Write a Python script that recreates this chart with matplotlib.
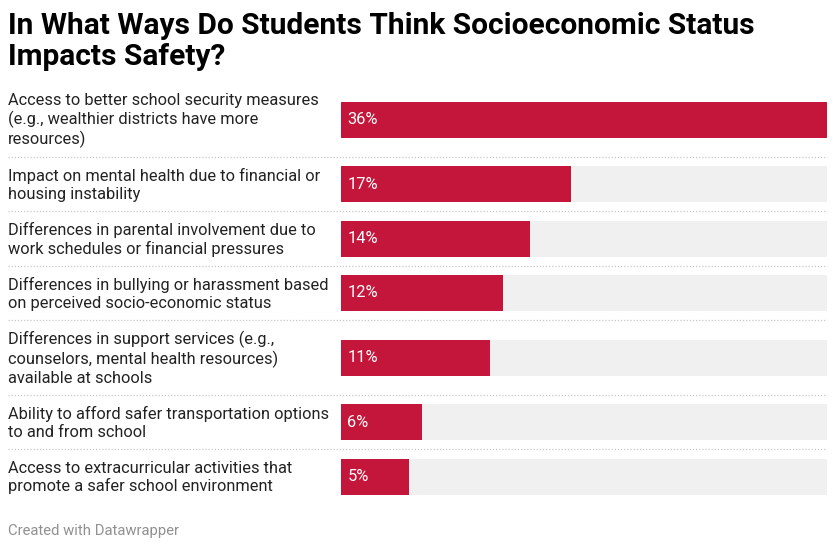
import matplotlib.pyplot as plt

plt.rcParams['font.family'] = ['Roboto', 'DejaVu Sans']

title = "In What Ways Do Students Think Socioeconomic Status\nImpacts Safety?"
labels = [
    "Access to better school security measures\n(e.g., wealthier districts have more\nresources)",
    "Impact on mental health due to financial or\nhousing instability",
    "Differences in parental involvement due to\nwork schedules or financial pressures",
    "Differences in bullying or harassment based\non perceived socio-economic status",
    "Differences in support services (e.g.,\ncounselors, mental health resources)\navailable at schools",
    "Ability to afford safer transportation options\nto and from school",
    "Access to extracurricular activities that\npromote a safer school environment",
]
values = [36, 17, 14, 12, 11, 6, 5]

W, H = 835, 550
RED = '#c4163a'
BG = '#f0f0f0'

fig = plt.figure(figsize=(W / 100, H / 100), dpi=100)

# full-figure axes in pixel units for the text and separators
bg = fig.add_axes([0, 0, 1, 1])
bg.set_xlim(0, W)
bg.set_ylim(H, 0)
bg.axis('off')

# row layout: height grows with the number of label lines
y = 82
centers, bounds = [], []
for lab in labels:
    h = 12.7 + 20.8 * (lab.count('\n') + 1)
    centers.append(y + h / 2)
    y += h
    bounds.append(y)

bg.text(8, 12, title, fontsize=21.5, fontweight='bold', va='top', ha='left',
        linespacing=1.12, color='#000000')

for lab, c in zip(labels, centers):
    bg.text(8, c + 1, lab, fontsize=11.75, va='center', ha='left',
            linespacing=1.22, color='#222222')

for b in bounds[:-1]:
    bg.plot([8, 827], [b, b], color='#c8c8c8', lw=0.9, ls=(0, (1, 1.5)))

bg.text(8, 531, "Created with Datawrapper", fontsize=10.7, va='center',
        ha='left', color='#909090')

# bar axes
ax = fig.add_axes([341 / W, 0, (827 - 341) / W, 1])
ax.set_xlim(0, max(values))
ax.set_ylim(H, 0)
ax.axis('off')
ax.barh(centers, [max(values)] * len(values), height=36, color=BG)
ax.barh(centers, values, height=36, color=RED)
for c, v in zip(centers, values):
    ax.annotate(f"{v}%", (0, c), xytext=(4.5, 0), textcoords='offset points',
                va='center', ha='left', fontsize=11.75, color='white')

fig.savefig('out.png', dpi=100)
